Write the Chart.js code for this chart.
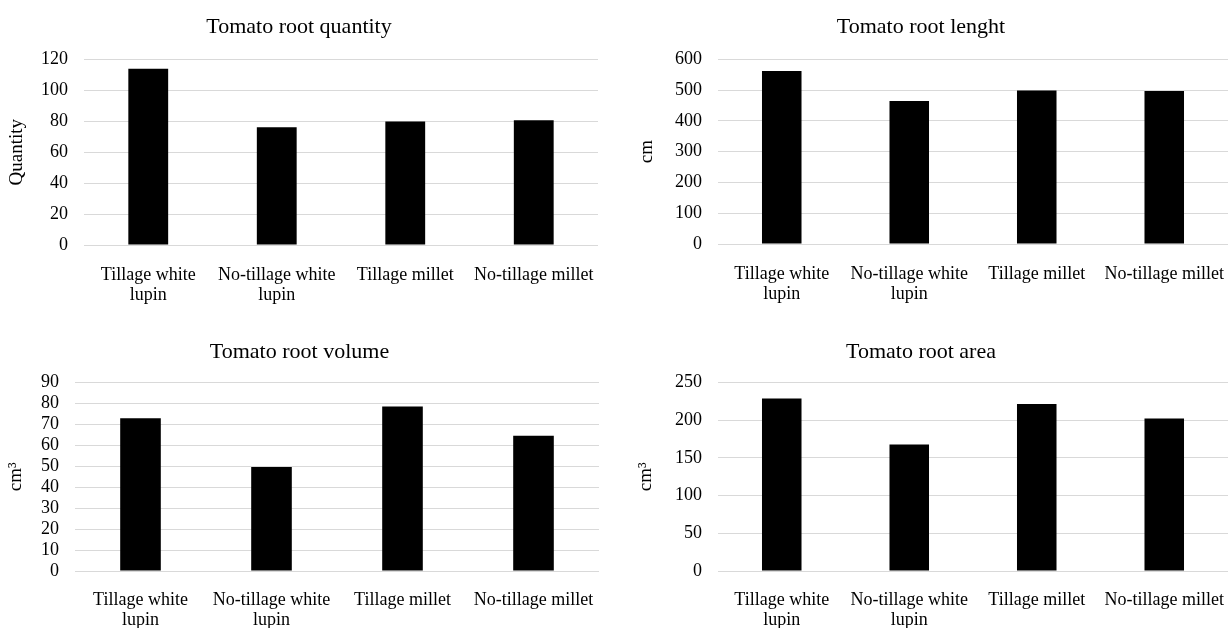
<!DOCTYPE html>
<html>
<head>
<meta charset="utf-8">
<script src="https://cdn.jsdelivr.net/npm/chart.js@4"></script>
<style>
    body {
        margin: 0;
        background: #ffffff;
        width: 1228px;
        height: 628px;
        position: relative;
        overflow: hidden;
    }
    .panel {
        position: absolute;
    }
</style>
</head>
<body>

<div class="panel" style="left:0px;top:0px;width:602px;height:310px;"><canvas id="quantityChart"></canvas></div>
<div class="panel" style="left:614px;top:0px;width:614px;height:310px;"><canvas id="lengthChart"></canvas></div>
<div class="panel" style="left:0px;top:320px;width:602px;height:308px;"><canvas id="volumeChart"></canvas></div>
<div class="panel" style="left:614px;top:320px;width:614px;height:308px;"><canvas id="areaChart"></canvas></div>

<script>

const categories = [
    ['Tillage white', 'lupin'],
    ['No-tillage white', 'lupin'],
    'Tillage millet',
    'No-tillage millet'
];

const rootQuantity = [114, 76.2, 79.9, 80.7];
const rootLength = [562, 465, 499, 497];
const rootVolume = [72.9, 49.6, 78.5, 64.5];
const rootArea = [228.6, 167.7, 221.5, 202];

const quantityTicks = [0, 20, 40, 60, 80, 100, 120];
const lengthTicks = [0, 100, 200, 300, 400, 500, 600];
const volumeTicks = [0, 10, 20, 30, 40, 50, 60, 70, 80, 90];
const areaTicks = [0, 50, 100, 150, 200, 250];

const FONT = "'Liberation Serif', 'Times New Roman', serif";

function drawPanel(id, title, axisTitle, values, ticks, layout) {

    const ctx =
        document.getElementById(id);

    new Chart(ctx, {

        type: 'bar',

        data: {
            labels: categories,
            datasets: [{
                data: values,
                backgroundColor: '#000000',
                borderWidth: 0,
                barPercentage: 1,
                categoryPercentage: 0.31
            }]
        },

        options: {

            responsive: true,
            maintainAspectRatio: false,
            animation: false,

            layout: {
                padding: {
                    left: 0,
                    right: layout.right,
                    top: 0,
                    bottom: 0
                }
            },

            plugins: {
                legend: { display: false },
                tooltip: { enabled: false },
                title: {
                    display: true,
                    text: title,
                    color: '#000000',
                    font: { family: FONT, size: 22, weight: 'normal', lineHeight: 1.2 },
                    padding: { top: layout.titleTop, bottom: layout.titleBottom }
                }
            },

            scales: {

                x: {
                    grid: { display: false },
                    border: { display: false },
                    ticks: {
                        color: '#000000',
                        padding: layout.xPad,
                        maxRotation: 0,
                        autoSkip: false,
                        font: { family: FONT, size: 18, lineHeight: 1.12 }
                    },
                    afterFit: (scale) => {
                        scale.height = layout.xHeight;
                        scale.paddingLeft = 0;
                        scale.paddingRight = 0;
                    }
                },

                y: {
                    min: ticks[0],
                    max: ticks[ticks.length - 1],
                    afterBuildTicks: (scale) => {
                        scale.ticks = ticks.map(v => ({ value: v }));
                    },
                    grid: {
                        color: '#d9d9d9',
                        lineWidth: 1,
                        drawTicks: false
                    },
                    border: { display: false },
                    ticks: {
                        color: '#000000',
                        padding: 16,
                        autoSkip: false,
                        font: { family: FONT, size: 18 }
                    },
                    title: {
                        display: true,
                        text: axisTitle,
                        color: '#000000',
                        font: { family: FONT, size: 19, lineHeight: 1.2 },
                        padding: { top: layout.axisTitleOffset - 11, bottom: 0 }
                    },
                    afterFit: (scale) => {
                        scale.width = layout.yWidth;
                        scale.paddingTop = 0;
                        scale.paddingBottom = 0;
                    }
                }

            }

        }

    });

}

drawPanel('quantityChart', 'Tomato root quantity', 'Quantity', rootQuantity, quantityTicks,
    { right: 4, yWidth: 84, titleTop: 14, titleBottom: 19, xHeight: 65, xPad: 12, axisTitleOffset: 17 });

drawPanel('lengthChart', 'Tomato root lenght', 'cm', rootLength, lengthTicks,
    { right: 0, yWidth: 104, titleTop: 14, titleBottom: 19, xHeight: 66, xPad: 12, axisTitleOffset: 33 });

drawPanel('volumeChart', 'Tomato root volume', 'cm³', rootVolume, volumeTicks,
    { right: 3, yWidth: 75, titleTop: 19, titleBottom: 17, xHeight: 57, xPad: 11, axisTitleOffset: 16 });

drawPanel('areaChart', 'Tomato root area', 'cm³', rootArea, areaTicks,
    { right: 0, yWidth: 104, titleTop: 19, titleBottom: 17, xHeight: 57, xPad: 11, axisTitleOffset: 32 });

</script>
</body>
</html>
